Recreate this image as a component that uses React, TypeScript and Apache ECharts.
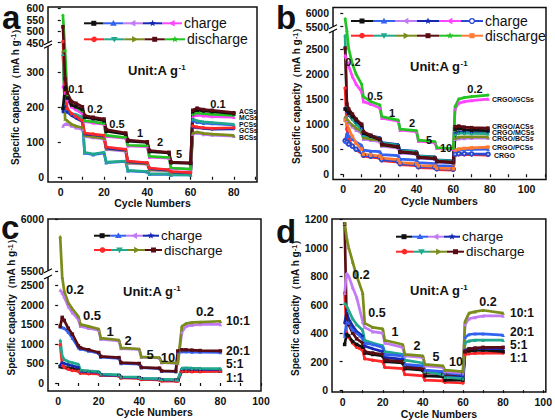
import React, { useEffect, useRef } from "react";
import * as echarts from "echarts";

const FONT = "'Liberation Sans', Arial, Helvetica, sans-serif";

// ---------------- Panel a ----------------
const CYC_A = [1, 2, 3, 5, 7, 10, 11, 15, 20, 21, 30, 31, 40, 41, 50, 51, 60, 61, 63, 66, 70, 80];
const A_ACS_D = [520, 280, 240, 215, 210, 200, 175, 170, 165, 135, 125, 105, 100, 75, 70, 42, 40, 190, 196, 192, 190, 183];
const A_ACS_C = [195, 255, 225, 205, 200, 192, 170, 166, 160, 130, 122, 102, 98, 72, 68, 40, 38, 186, 190, 188, 186, 180];
const A_MCS_D = [570, 360, 230, 205, 198, 188, 160, 157, 152, 118, 112, 90, 88, 58, 55, 25, 22, 178, 182, 180, 178, 175];
const A_MCS_C = [260, 240, 220, 200, 192, 180, 158, 154, 150, 115, 110, 88, 86, 56, 53, 24, 21, 172, 176, 174, 172, 170];
const A_PCS_D = [350, 200, 188, 180, 178, 170, 70, 65, 70, 42, 45, 18, 15, 8, 8, 6, 5, 165, 160, 157, 155, 150];
const A_PCS_C = [195, 190, 185, 180, 176, 168, 68, 63, 68, 40, 44, 17, 14, 7, 7, 5, 5, 160, 156, 153, 152, 148];
const A_GCS_D = [455, 240, 195, 180, 172, 160, 125, 122, 118, 85, 78, 45, 40, 25, 20, 15, 12, 145, 142, 140, 138, 140];
const A_GCS_C = [185, 200, 185, 175, 168, 158, 122, 120, 116, 82, 76, 43, 39, 23, 19, 14, 11, 142, 140, 138, 136, 137];
const A_BCS_D = [360, 165, 160, 150, 145, 140, 118, 114, 110, 80, 75, 40, 37, 20, 18, 10, 8, 125, 128, 124, 122, 118];
const A_BCS_C = [145, 150, 150, 145, 140, 135, 115, 112, 108, 78, 73, 38, 36, 19, 17, 9, 8, 122, 125, 121, 119, 116];
const A_YTICKS = [0, 100, 200, 300, 450, 500, 550, 600];
const A_XLABELS = [0, 20, 40, 60, 80];
const A_RATES = ["0.1", "0.2", "0.5", "1", "2", "5", "0.1"];
const A_NAMES = ["ACSs", "MCSs", "PCSs", "GCSs", "BCSs"];

// ---------------- Panel b ----------------
const CYC_B = [1, 2, 3, 5, 7, 10, 11, 15, 20, 21, 30, 31, 40, 41, 50, 51, 60, 61, 63, 66, 70, 79];
const B_GCS_D = [5800, 2850, 2500, 2200, 2000, 1800, 1550, 1450, 1380, 1150, 1080, 900, 870, 680, 650, 530, 510, 1350, 1500, 1530, 1550, 1580];
const B_GCS_C = [2380, 2250, 2150, 1950, 1800, 1650, 1450, 1400, 1320, 1120, 1060, 880, 850, 660, 630, 520, 500, 1300, 1420, 1450, 1470, 1500];
const B_ACS_D = [2520, 1400, 1300, 1200, 1100, 1000, 850, 780, 700, 600, 550, 450, 420, 340, 320, 260, 240, 950, 960, 940, 930, 920];
const B_ACS_C = [1300, 1280, 1220, 1150, 1080, 980, 820, 760, 690, 590, 540, 440, 410, 330, 310, 250, 230, 900, 910, 890, 880, 870];
const B_MCS_D = [2780, 1300, 1200, 1100, 1000, 900, 780, 750, 720, 620, 580, 470, 450, 360, 340, 280, 260, 800, 820, 820, 815, 810];
const B_MCS_C = [1320, 1250, 1180, 1100, 1020, 920, 790, 760, 730, 630, 590, 480, 455, 365, 345, 285, 265, 820, 840, 835, 830, 830];
const B_BCS_D = [1150, 1100, 1050, 980, 920, 850, 730, 700, 680, 580, 540, 440, 420, 340, 320, 260, 240, 720, 740, 745, 745, 745];
const B_BCS_C = [1150, 1080, 1020, 950, 880, 820, 700, 680, 650, 560, 520, 420, 400, 320, 300, 240, 225, 700, 710, 715, 720, 720];
const B_PCS_D = [1080, 1000, 900, 750, 620, 500, 400, 380, 360, 320, 290, 230, 210, 170, 160, 120, 110, 480, 500, 515, 525, 540];
const B_PCS_C = [650, 820, 760, 700, 640, 580, 480, 460, 450, 390, 370, 300, 280, 230, 210, 170, 160, 470, 480, 490, 495, 500];
const B_CRGO_D = [1720, 900, 700, 550, 480, 430, 360, 340, 320, 270, 240, 190, 170, 130, 120, 90, 80, 380, 390, 390, 390, 380];
const B_CRGO_C = [670, 640, 600, 560, 500, 450, 380, 360, 340, 290, 260, 210, 190, 150, 140, 110, 100, 400, 410, 410, 405, 400];
const B_YTICKS = [0, 500, 1000, 1500, 2000, 2500, 5500, 6000];
const BCD_XLABELS = [0, 20, 40, 60, 80, 100];
const B_RATES = ["0.2", "0.5", "1", "2", "5", "10", "0.2"];
const B_NAMES = ["CRGO/GCSs", "CRGO/ACSs", "CRGO/MCSs", "CRGO/BCSs", "CRGO/PCSs", "CRGO"];

// ---------------- Panel c ----------------
const CYC_C = [1, 2, 3, 5, 7, 10, 11, 15, 20, 21, 30, 31, 40, 41, 50, 51, 58, 59, 61, 63, 66, 70, 80];
const C_10_D = [5830, 2800, 2350, 2050, 1900, 1700, 1500, 1450, 1380, 1150, 1100, 900, 870, 670, 650, 530, 515, 510, 1450, 1520, 1550, 1560, 1580];
const C_10_C = [2380, 2300, 2200, 1950, 1800, 1620, 1450, 1400, 1350, 1120, 1080, 880, 860, 660, 640, 520, 505, 500, 1300, 1450, 1480, 1500, 1500];
const C_20_D = [1450, 1680, 1600, 1400, 1250, 950, 900, 850, 780, 680, 650, 520, 500, 400, 380, 310, 300, 820, 850, 850, 840, 830, 820];
const C_20_C = [1430, 1420, 1400, 1300, 1150, 900, 870, 820, 760, 660, 630, 500, 480, 390, 370, 300, 290, 800, 800, 800, 790, 790, 780];
const C_5_D = [1100, 700, 600, 550, 520, 480, 330, 310, 290, 230, 210, 160, 150, 120, 110, 90, 85, 85, 380, 385, 380, 375, 370];
const C_5_C = [450, 520, 500, 470, 440, 400, 300, 290, 270, 210, 195, 150, 140, 110, 100, 80, 75, 75, 350, 360, 355, 350, 350];
const C_1_D = [980, 450, 400, 350, 320, 300, 250, 240, 230, 200, 180, 130, 120, 90, 80, 50, 50, 50, 300, 295, 290, 290, 300];
const C_1_C = [420, 410, 400, 380, 360, 330, 280, 265, 250, 210, 190, 140, 130, 100, 90, 70, 65, 65, 310, 300, 300, 300, 300];
const C_YTICKS = [0, 500, 1000, 1500, 2000, 2500, 5500, 6000];
const C_RATES = ["0.2", "0.5", "1", "2", "5", "10", "0.2"];
const CD_NAMES = ["10:1", "20:1", "5:1", "1:1"];

// ---------------- Panel d ----------------
const CYC_D = [1, 2, 3, 5, 7, 10, 11, 15, 20, 21, 30, 31, 40, 41, 50, 51, 60, 61, 63, 66, 70, 80];
const D_10_D = [1170, 1070, 1000, 900, 800, 680, 470, 440, 430, 350, 320, 250, 240, 180, 170, 140, 130, 480, 540, 550, 560, 540];
const D_10_C = [680, 820, 800, 720, 650, 480, 440, 410, 400, 330, 300, 240, 230, 170, 160, 130, 120, 460, 500, 510, 520, 520];
const D_20_C = [380, 480, 470, 420, 400, 360, 330, 320, 300, 250, 240, 180, 170, 140, 130, 120, 110, 370, 390, 395, 395, 385];
const D_20_D = [1165, 480, 460, 400, 360, 330, 270, 260, 250, 210, 200, 160, 150, 120, 115, 110, 110, 270, 290, 295, 300, 300];
const D_5_D = [610, 590, 560, 500, 460, 420, 350, 330, 310, 270, 250, 210, 190, 130, 110, 90, 80, 330, 345, 350, 350, 350];
const D_5_C = [470, 550, 500, 450, 410, 380, 310, 290, 270, 230, 215, 170, 160, 130, 120, 100, 95, 280, 290, 290, 290, 290];
const D_1_D = [680, 400, 370, 330, 300, 280, 220, 210, 200, 160, 150, 110, 100, 70, 65, 55, 50, 250, 255, 258, 260, 260];
const D_1_C = [320, 390, 380, 340, 320, 300, 260, 250, 240, 200, 190, 150, 140, 100, 95, 70, 70, 270, 275, 278, 280, 270];
const D_YTICKS = [0, 200, 400, 600, 800, 1000, 1200];
const D_RATES = ["0.2", "0.5", "1", "2", "5", "10", "0.2"];

// ---------------- styles ----------------
const COL: Record<string, string> = {
  black: "#111111", blue: "#3262f0", violet: "#c27af5", navy: "#1428b4", magenta: "#ff45ff",
  royal: "#2a4ad0", red: "#ff2828", teal: "#22a88c", olive: "#7b8c1c", maroon: "#5a0c14",
  green: "#22c422", orange: "#ff7a32",
};

type Brk = { L: number; U: number; dU: number; s: number } | null;
const BRK_A: Brk = { L: 373, U: 450, dU: 383, s: 0.653 };
const BRK_B: Brk = { L: 2860, U: 5500, dU: 2946, s: 0.536 };
const BRK_C: Brk = { L: 2710, U: 5500, dU: 2872, s: 2.65 };

const mapY = (b: Brk, v: number) => {
  if (!b) return v;
  if (v <= b.L) return v;
  if (v >= b.U) return b.dU + (v - b.U) * b.s;
  return b.L + ((v - b.L) / (b.U - b.L)) * (b.dU - b.L);
};
const invY = (b: Brk, d: number) => {
  if (!b) return d;
  if (d <= b.L) return d;
  if (d >= b.dU) return b.U + (d - b.dU) / b.s;
  return b.L + ((d - b.L) / (b.dU - b.L)) * (b.U - b.L);
};

function marker(kind: string, cx: number, cy: number, color: string): any {
  const st = { fill: color };
  switch (kind) {
    case "sq": return { type: "rect", shape: { x: cx - 2.5, y: cy - 2.5, width: 5, height: 5 }, style: st };
    case "ci": return { type: "circle", shape: { cx, cy, r: 2.8 }, style: st };
    case "oc": return { type: "circle", shape: { cx, cy, r: 2.4 }, style: { fill: "#fff", stroke: color, lineWidth: 1.3 } };
    case "tu": return { type: "polygon", shape: { points: [[cx, cy - 3.3], [cx + 3.3, cy + 2.4], [cx - 3.3, cy + 2.4]] }, style: st };
    case "td": return { type: "polygon", shape: { points: [[cx, cy + 3.3], [cx + 3.3, cy - 2.4], [cx - 3.3, cy - 2.4]] }, style: st };
    case "tl": return { type: "polygon", shape: { points: [[cx - 3.3, cy], [cx + 2.4, cy - 3.3], [cx + 2.4, cy + 3.3]] }, style: st };
    case "tr": return { type: "polygon", shape: { points: [[cx + 3.3, cy], [cx - 2.4, cy - 3.3], [cx - 2.4, cy + 3.3]] }, style: st };
    default: {
      const pts: number[][] = [];
      for (let k = 0; k < 10; k++) {
        const r = k % 2 === 0 ? 3.6 : 1.5;
        const a = -Math.PI / 2 + (k * Math.PI) / 5;
        pts.push([cx + r * Math.cos(a), cy + r * Math.sin(a)]);
      }
      return { type: "polygon", shape: { points: pts }, style: st };
    }
  }
}

const SYM: Record<string, string> = { sq: "rect", ci: "circle", oc: "emptyCircle", tu: "triangle", td: "triangle", tl: "triangle", tr: "triangle", st: "diamond" };

function legendRow(x0: number, y: number, seg: number, items: [string, string][], text: string, fs: number) {
  const els: any[] = [];
  items.forEach(([c, k], i) => {
    els.push({ type: "line", shape: { x1: x0 + i * seg, y1: y, x2: x0 + (i + 1) * seg, y2: y }, style: { stroke: COL[c], lineWidth: 2 } });
    els.push(marker(k, x0 + i * seg + seg / 2, y, COL[c]));
  });
  els.push({ type: "text", x: x0 + items.length * seg + 2, y, style: { text, fontSize: fs, fontFamily: FONT, fill: "#111", align: "left", verticalAlign: "middle" } });
  return els;
}

function txt(text: string, x: number, y: number, fs: number, align = "center", lh?: number) {
  return {
    type: "text", x, y,
    style: { text, fontSize: fs, fontWeight: "bold", fontFamily: FONT, fill: "#111", align, verticalAlign: "middle", lineHeight: lh ?? fs },
  };
}
function unitTxt(x: number, y: number) {
  return {
    type: "text", x, y,
    style: {
      text: "{a|Unit:A g}{b|-1}", align: "left", verticalAlign: "middle",
      rich: { a: { fontSize: 13, fontWeight: "bold", fontFamily: FONT, fill: "#111" }, b: { fontSize: 8, fontWeight: "bold", fontFamily: FONT, fill: "#111", verticalAlign: "top", padding: [0, 0, 6, 0] } },
    },
  };
}
function breakMark(x: number, yU: number, yL: number) {
  return [
    { type: "rect", shape: { x: x - 3, y: yU, width: 6, height: yL - yU }, style: { fill: "#fff" } },
    { type: "line", shape: { x1: x - 4, y1: yU + 2, x2: x + 4, y2: yU - 2 }, style: { stroke: "#000", lineWidth: 1.1 } },
    { type: "line", shape: { x1: x - 4, y1: yL + 2, x2: x + 4, y2: yL - 2 }, style: { stroke: "#000", lineWidth: 1.1 } },
  ];
}

type SDef = { v: number[]; c: string; k: string };
const PANELS: {
  grid: any; xr: [number, number]; yr: [number, number]; brk: Brk; cyc: number[];
  yticks: number[]; xlabels: number[]; xticks: number[]; series: SDef[]; nameGapY: number; nameGapX: number;
}[] = [
  {
    grid: { left: 48, top: 7, width: 209, height: 175 }, xr: [-5.9, 90.7], yr: [-15, 485], brk: BRK_A, cyc: CYC_A,
    yticks: A_YTICKS, xlabels: A_XLABELS, xticks: [0, 10, 20, 30, 40, 50, 60, 70, 80, 90], nameGapY: 28, nameGapX: 12,
    series: [
      { v: A_BCS_C, c: "violet", k: "tl" }, { v: A_BCS_D, c: "olive", k: "tr" },
      { v: A_PCS_C, c: "blue", k: "tu" }, { v: A_PCS_D, c: "teal", k: "td" },
      { v: A_GCS_C, c: "navy", k: "st" }, { v: A_GCS_D, c: "red", k: "ci" },
      { v: A_MCS_C, c: "magenta", k: "tl" }, { v: A_MCS_D, c: "green", k: "st" },
      { v: A_ACS_C, c: "black", k: "sq" }, { v: A_ACS_D, c: "maroon", k: "sq" },
    ],
  },
  {
    grid: { left: 333, top: 7.5, width: 213, height: 172 }, xr: [-5.6, 110.6], yr: [-106, 3330], brk: BRK_B, cyc: CYC_B,
    yticks: B_YTICKS, xlabels: BCD_XLABELS, xticks: [0, 10, 20, 30, 40, 50, 60, 70, 80, 90, 100, 110], nameGapY: 29, nameGapX: 15,
    series: [
      { v: B_CRGO_D, c: "red", k: "ci" }, { v: B_CRGO_C, c: "royal", k: "oc" },
      { v: B_PCS_C, c: "blue", k: "tu" }, { v: B_PCS_D, c: "orange", k: "sq" },
      { v: B_BCS_C, c: "violet", k: "tl" }, { v: B_BCS_D, c: "olive", k: "tr" },
      { v: B_MCS_C, c: "navy", k: "st" }, { v: B_MCS_D, c: "teal", k: "td" },
      { v: B_ACS_C, c: "black", k: "sq" }, { v: B_ACS_D, c: "maroon", k: "sq" },
      { v: B_GCS_C, c: "magenta", k: "tl" }, { v: B_GCS_D, c: "green", k: "st" },
    ],
  },
  {
    grid: { left: 48, top: 219, width: 213, height: 172 }, xr: [-5, 100], yr: [-205, 4197], brk: BRK_C, cyc: CYC_C,
    yticks: C_YTICKS, xlabels: BCD_XLABELS, xticks: [0, 10, 20, 30, 40, 50, 60, 70, 80, 90, 100], nameGapY: 28, nameGapX: 14,
    series: [
      { v: C_1_C, c: "black", k: "sq" }, { v: C_1_D, c: "red", k: "ci" },
      { v: C_5_C, c: "navy", k: "st" }, { v: C_5_D, c: "teal", k: "td" },
      { v: C_20_C, c: "blue", k: "tu" }, { v: C_20_D, c: "maroon", k: "sq" },
      { v: C_10_C, c: "violet", k: "tl" }, { v: C_10_D, c: "olive", k: "tr" },
    ],
  },
  {
    grid: { left: 332, top: 219, width: 214, height: 174 }, xr: [-5.3, 101.3], yr: [-14, 1200], brk: null, cyc: CYC_D,
    yticks: D_YTICKS, xlabels: BCD_XLABELS, xticks: [0, 10, 20, 30, 40, 50, 60, 70, 80, 90, 100], nameGapY: 25, nameGapX: 13,
    series: [
      { v: D_1_D, c: "red", k: "ci" }, { v: D_1_C, c: "black", k: "sq" },
      { v: D_5_C, c: "navy", k: "st" }, { v: D_20_D, c: "maroon", k: "sq" },
      { v: D_5_D, c: "teal", k: "td" }, { v: D_20_C, c: "blue", k: "tu" },
      { v: D_10_C, c: "violet", k: "tl" }, { v: D_10_D, c: "olive", k: "tr" },
    ],
  },
];

function buildOption() {
  const grid: any[] = [], xAxis: any[] = [], yAxis: any[] = [], series: any[] = [];
  const lbl = { fontSize: 10.5, fontWeight: "bold", fontFamily: FONT, color: "#111" };
  PANELS.forEach((p, i) => {
    grid.push({ ...p.grid, show: true, borderColor: "#111", borderWidth: 1.5, backgroundColor: "transparent" });
    xAxis.push({
      type: "value", gridIndex: i, min: p.xr[0], max: p.xr[1],
      name: "Cycle Numbers", nameLocation: "middle", nameGap: p.nameGapX,
      nameTextStyle: { fontSize: 10.5, fontWeight: "bold", fontFamily: FONT, color: "#111" },
      axisLine: { show: false }, splitLine: { show: false },
      axisTick: { show: true, length: 3, customValues: p.xticks, lineStyle: { color: "#111", width: 1.2 } },
      axisLabel: { ...lbl, margin: 4, customValues: p.xlabels, formatter: (v: number) => String(Math.round(v)) },
    });
    const tickD = p.yticks.map((t) => mapY(p.brk, t));
    yAxis.push({
      type: "value", gridIndex: i, min: p.yr[0], max: p.yr[1],
      name: "{t|Specific capacity（mA h g}{s|-1}{t|）}", nameLocation: "middle", nameGap: p.nameGapY,
      nameTextStyle: {
        rich: {
          t: { fontSize: 10, fontWeight: "bold", fontFamily: FONT, color: "#111" },
          s: { fontSize: 7, fontWeight: "bold", fontFamily: FONT, color: "#111", verticalAlign: "top" },
        },
      },
      axisLine: { show: false }, splitLine: { show: false },
      axisTick: { show: true, length: 3, customValues: tickD, lineStyle: { color: "#111", width: 1.2 } },
      axisLabel: { ...lbl, margin: 4, customValues: tickD, formatter: (v: number) => String(Math.round(invY(p.brk, v))) },
    });
    p.series.forEach((s) => {
      series.push({
        type: "line", xAxisIndex: i, yAxisIndex: i,
        data: p.cyc.map((c, j) => [c, mapY(p.brk, s.v[j])]),
        symbol: SYM[s.k], symbolSize: 3.5, showSymbol: true,
        lineStyle: { color: COL[s.c], width: 2.7 }, itemStyle: { color: COL[s.c] },
        z: 2, silent: true, clip: true,
      });
    });
  });

  const g: any[] = [];
  // panel letters
  g.push(txt("a", 2, 17.5, 33, "left"), txt("b", 276, 17.5, 33, "left"), txt("c", 1, 227, 33, "left"), txt("d", 276, 231, 33, "left"));
  // legends
  g.push(...legendRow(84, 23.3, 19.6, [["black", "sq"], ["blue", "tu"], ["violet", "tl"], ["navy", "st"], ["magenta", "tl"]], "charge", 14));
  g.push(...legendRow(84, 39.3, 20.2, [["red", "ci"], ["teal", "td"], ["olive", "tr"], ["maroon", "sq"], ["green", "st"]], "discharge", 14));
  g.push(...legendRow(351, 21, 22, [["black", "sq"], ["blue", "tu"], ["violet", "tl"], ["navy", "st"], ["magenta", "tl"], ["royal", "oc"]], "charge", 14));
  g.push(...legendRow(351, 35.7, 22, [["red", "ci"], ["teal", "td"], ["olive", "tr"], ["maroon", "sq"], ["green", "st"], ["orange", "sq"]], "discharge", 14));
  g.push(...legendRow(94, 235.7, 16.25, [["black", "sq"], ["blue", "tu"], ["violet", "tl"], ["navy", "st"]], "charge", 13.5));
  g.push(...legendRow(94, 250, 17, [["red", "ci"], ["teal", "td"], ["olive", "tr"], ["maroon", "sq"]], "discharge", 13.5));
  g.push(...legendRow(396, 236.7, 16, [["black", "sq"], ["blue", "tu"], ["violet", "tl"], ["navy", "st"]], "charge", 13.5));
  g.push(...legendRow(396, 251.7, 17, [["red", "ci"], ["teal", "td"], ["olive", "tr"], ["maroon", "sq"]], "discharge", 13.5));
  // unit labels
  g.push(unitTxt(128, 70), unitTxt(410, 66.7), unitTxt(123, 291.7), unitTxt(410, 290));
  // rate labels
  const aPos = [[76, 89], [95, 109], [117, 124], [140, 133], [160, 142], [179, 154], [218, 104]];
  A_RATES.forEach((r, i) => g.push(txt(r, aPos[i][0], aPos[i][1], 11)));
  const bPos = [[353, 62], [375, 96], [392, 113], [412, 123], [429, 140], [446, 148], [475, 89]];
  B_RATES.forEach((r, i) => g.push(txt(r, bPos[i][0], bPos[i][1], 11)));
  const cPos = [[75, 289], [92, 315], [110, 331], [128, 340], [150, 354], [168, 357], [205, 311]];
  C_RATES.forEach((r, i) => g.push(txt(r, cPos[i][0], cPos[i][1], 13)));
  const dPos = [[361, 275], [377, 313], [395, 332], [417, 346], [436, 357], [456, 362], [488, 302]];
  D_RATES.forEach((r, i) => g.push(txt(r, dPos[i][0], dPos[i][1], 12.5)));
  // series name labels
  const aNY = [111, 117.5, 124, 130.5, 137];
  A_NAMES.forEach((n, i) => g.push(txt(n, 239, aNY[i], 6.8, "left", 6.4)));
  const bNY = [99, 126, 132.2, 138.4, 147.5, 155];
  B_NAMES.forEach((n, i) => g.push(txt(n, i === 5 ? 494 : 492, bNY[i], 7, "left", 6.1)));
  const cNY = [321, 350.5, 364, 377.5];
  CD_NAMES.forEach((n, i) => g.push(txt(n, 226, cNY[i], 12, "left", 10.5)));
  const dNY = [313, 332, 345, 358];
  CD_NAMES.forEach((n, i) => g.push(txt(n, 510, dNY[i], 12, "left", 10.5)));
  // axis breaks
  g.push(...breakMark(48, 42.7, 46.2), ...breakMark(333, 26.7, 31), ...breakMark(48, 270.7, 277));

  return {
    animation: false,
    backgroundColor: "#fff",
    grid, xAxis, yAxis, series,
    graphic: g.map((e) => ({ ...e, z: 100, silent: true })),
  };
}

export default function App() {
  const ref = useRef<HTMLDivElement>(null);
  useEffect(() => {
    if (!ref.current) return;
    const chart = echarts.init(ref.current, null, { renderer: "svg" });
    chart.setOption(buildOption() as any);
    return () => chart.dispose();
  }, []);
  return <div ref={ref} style={{ position: "fixed", left: 0, top: 0, width: 555, height: 420, background: "#fff" }} />;
}
